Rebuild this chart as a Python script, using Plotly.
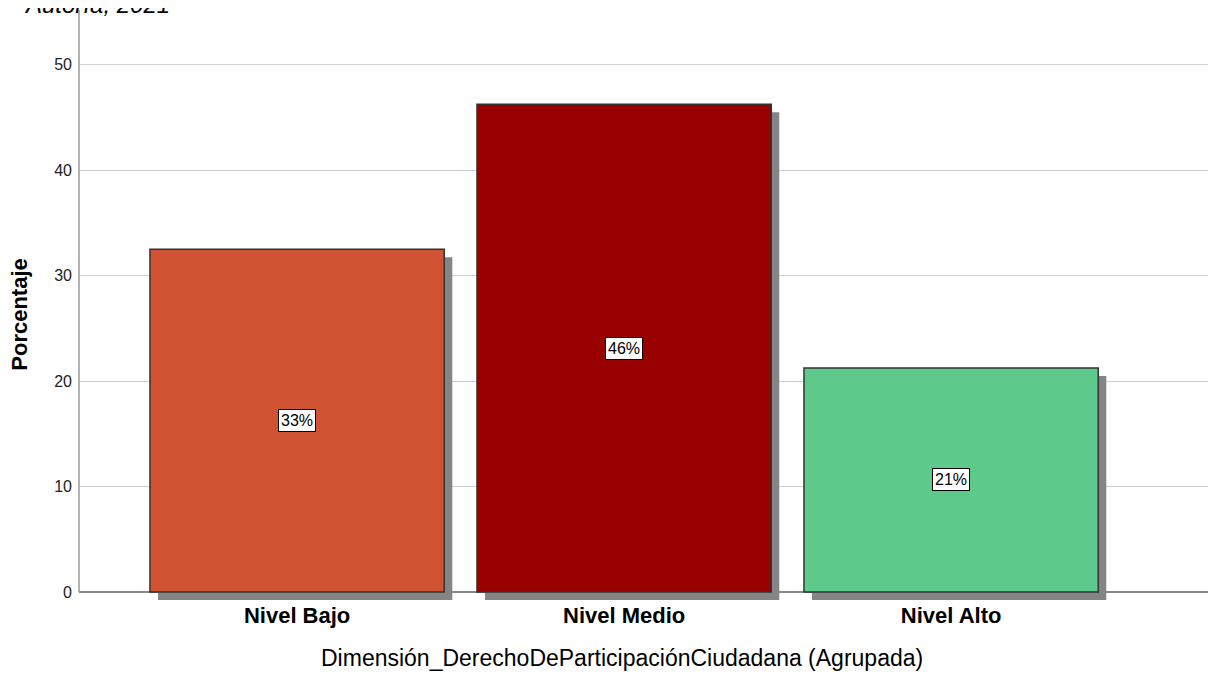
import plotly.graph_objects as go

# ---------- Datos ----------
niveles = ["Nivel Bajo", "Nivel Medio", "Nivel Alto"]
porcentajes = [32.5, 46.25, 21.25]
etiquetas = ["33%", "46%", "21%"]
colores = ["#D05434", "#990000", "#5DC98A"]

# desplazamiento de la sombra (unidades de eje)
sombra_x = 0.0245
sombra_y = 0.76

fig = go.Figure()

# sombra
fig.add_trace(go.Bar(
    x=niveles, y=porcentajes, base=-sombra_y,
    width=0.9, offset=-0.45 + sombra_x,
    marker=dict(color="#858585", line=dict(width=0)),
    hoverinfo="skip", showlegend=False,
))

# barras
fig.add_trace(go.Bar(
    x=niveles, y=porcentajes,
    width=0.9, offset=-0.45,
    marker=dict(color=colores, line=dict(color="#333333", width=1.5)),
    showlegend=False,
))

for nv, p, et in zip(niveles, porcentajes, etiquetas):
    fig.add_annotation(
        x=nv, y=p / 2, text=et, showarrow=False,
        font=dict(family="Arial", size=16, color="#000000"),
        bgcolor="white", bordercolor="#000000", borderwidth=1, borderpad=2,
    )

# eje Y como línea desde 0
fig.add_shape(type="line", xref="paper", yref="y", x0=0, x1=0, y0=0, y1=55.2,
              line=dict(color="#999999", width=1.5))

fig.add_annotation(
    xref="paper", yref="paper", x=0.0818, y=0.983, xanchor="right", yanchor="bottom",
    text="<i>Autoría, 2021</i>", showarrow=False,
    font=dict(family="Arial", size=24, color="#000000"),
)

# títulos de ejes
fig.add_annotation(
    xref="paper", yref="paper", x=0.478, y=-0.098, xanchor="center", yanchor="middle",
    text="Dimensión_DerechoDeParticipaciónCiudadana (Agrupada)", showarrow=False,
    font=dict(family="Arial", size=23, color="#000000"),
)
fig.add_annotation(
    xref="paper", yref="paper", x=-0.052, y=0.485, xanchor="center", yanchor="middle",
    text="<b>Porcentaje</b>", showarrow=False, textangle=-90,
    font=dict(family="Arial", size=22, color="#000000"),
)

fig.update_layout(
    barmode="overlay",
    width=1208, height=667,
    paper_bgcolor="white", plot_bgcolor="white",
    margin=dict(l=71, r=0, t=2, b=75),
    font=dict(family="Arial", color="#000000"),
)
fig.update_xaxes(
    range=[-0.667, 2.81], showgrid=False, showline=False, ticks="",
    tickfont=dict(family="Arial", size=22, color="#000000", weight="bold"),
    ticklabelstandoff=0,
)
fig.update_yaxes(
    range=[-sombra_y, 55.2], tickvals=[0, 10, 20, 30, 40, 50],
    showgrid=True, gridcolor="#d0d0d0", gridwidth=1,
    zeroline=True, zerolinecolor="#888888", zerolinewidth=1.5,
    showline=False, ticks="", ticklabelstandoff=6,
    tickfont=dict(family="Arial", size=16, color="#222222"),
)

fig.write_html("out.html")
